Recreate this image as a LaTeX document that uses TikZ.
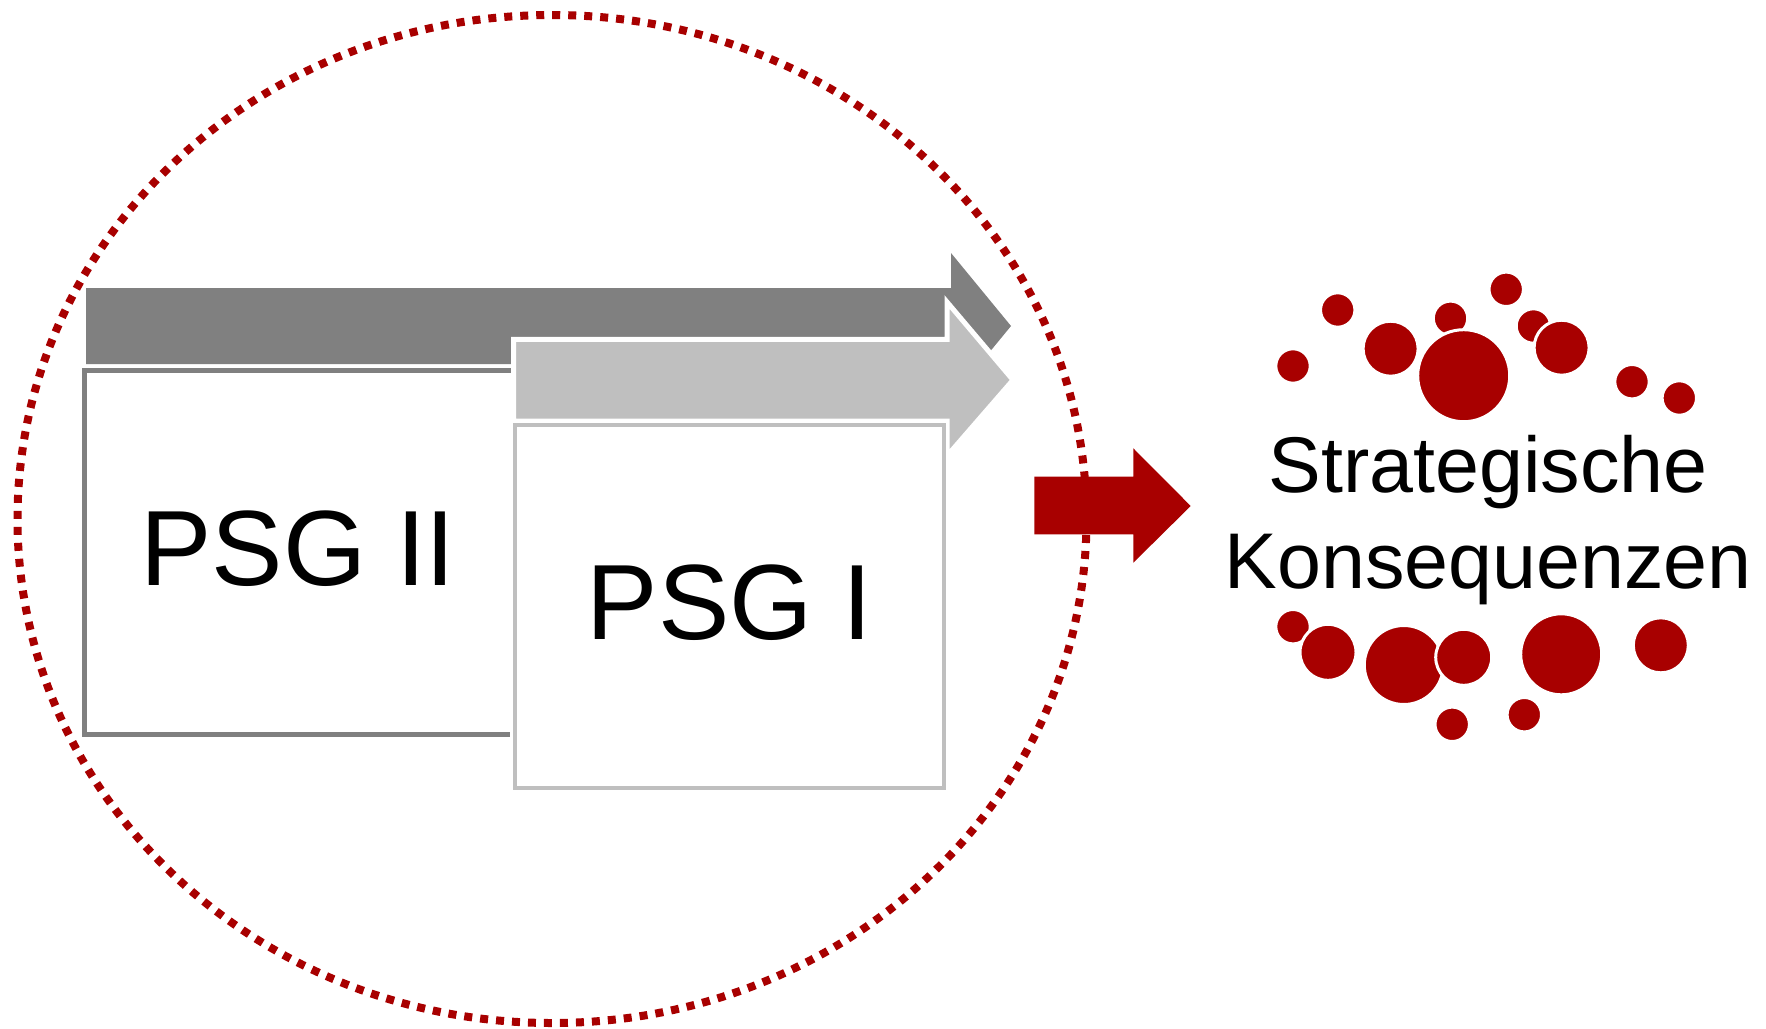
\documentclass[tikz,border=0pt]{standalone}
\usepackage{fontspec}
\setmainfont{Liberation Sans}
\definecolor{darkred}{RGB}{168,0,0}
\definecolor{dgray}{RGB}{128,128,128}
\definecolor{lgray}{RGB}{191,191,191}
\begin{document}
\begin{tikzpicture}[x=1pt,y=-1pt,
  lbl/.style={inner sep=0pt, anchor=base, text=black},
  big/.style={font=\fontsize{107}{107}\selectfont},
  mid/.style={font=\fontsize{79}{79}\selectfont},
  dot/.style={fill=darkred, draw=white, line width=3pt}]
\useasboundingbox (0,0) rectangle (1766,1028);
% dotted ellipse
\draw[darkred, line width=8pt, dash pattern=on 8pt off 8pt] (552,519) ellipse [x radius=534.5, y radius=504];
% dark arrow
\fill[dgray] (86,288) -- (951,288) -- (951,253) -- (1011,326) -- (951,399) -- (951,364) -- (86,364) -- cycle;
% PSG II box
\draw[dgray, line width=5pt, fill=white] (84.7,370.4) rectangle (515,734);
% light arrow
\path[fill=lgray, draw=white, line width=5pt] (513.5,339.3) -- (947,339.3) -- (947,302) -- (1013,380) -- (947,456) -- (947,421.1) -- (513.5,421.1) -- cycle;
% PSG I box
\draw[white, line width=10pt] (515,425) rectangle (944,788);
\draw[lgray, line width=4.5pt, fill=white] (515,425) rectangle (944,788);
% labels
\node[lbl, big] (psg2) at (298,585.7) {PSG II};
\node[lbl, big] (psg1) at (729.5,639.3) {PSG I};
% red block arrow
\fill[darkred] (1034.3,476.7) -- (1133.3,476.7) -- (1133.3,448.3) -- (1190.7,506) -- (1133.3,562.7) -- (1133.3,534.3) -- (1034.3,534.3) -- cycle;
% right text
\node[lbl, mid] (t1) at (1488,492) {Strategische};
\node[lbl, mid] (t2) at (1488,588) {Konsequenzen};
% top dots
\foreach \x/\y/\r in {1337.7/310/15.7, 1293/366/15.7, 1450.5/318.3/15.7, 1506.2/289.3/15.7, 1533.4/326/15.7, 1632/381.7/15.7, 1679.3/398/15.7, 1390.6/348.7/26, 1561.6/347.7/26, 1463.7/375.7/44.5}
  \path[dot] (\x,\y) circle[radius=\r+1.5];
% bottom dots
\foreach \x/\y/\r in {1293/626.7/15.7, 1452.2/724.3/15.7, 1524.3/714.7/15.7, 1328/652.3/26.5, 1403.8/665/38, 1463.7/657.3/26.5, 1561.2/654.3/39, 1660.8/645.3/26}
  \path[dot] (\x,\y) circle[radius=\r+1.5];
\end{tikzpicture}
\end{document}
